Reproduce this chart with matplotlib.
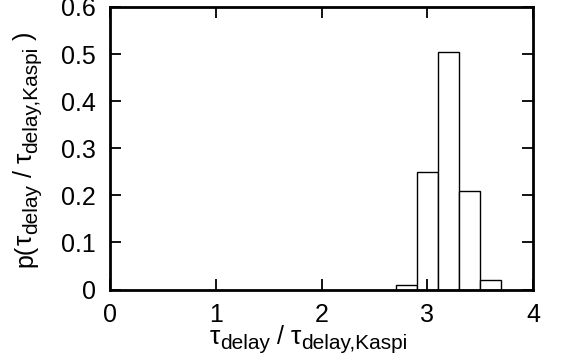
import numpy as np
import matplotlib
matplotlib.use("Agg")
import matplotlib.pyplot as plt
from matplotlib.transforms import IdentityTransform

plt.rcParams['font.family'] = ['Liberation Sans', 'DejaVu Sans']

# histogram of tau_delay / tau_delay,Kaspi
bin_left = [2.7, 2.9, 3.1, 3.3, 3.5]
bin_width = 0.2
prob = [0.0085, 0.249, 0.505, 0.210, 0.020]

x_ticks = [0, 1, 2, 3, 4]
y_ticks = [0, 0.1, 0.2, 0.3, 0.4, 0.5, 0.6]
y_tick_labels = ["0", "0.1", "0.2", "0.3", "0.4", "0.5", "0.6"]

FS = 18      # main text
FS_TAU = 19  # greek tau
FS_SUB = 15  # subscripts
SUB_DY = 5   # subscript drop, px


def rich_label(fig, parts, x, y, vertical=False):
    """place text pieces (string, size, drop) one after another, centred on x,y (px)"""
    r = fig.canvas.get_renderer()
    widths = []
    for s, size, dy in parts:
        t = fig.text(0, 0, s, fontsize=size)
        bb = t.get_window_extent(r)
        widths.append(bb.width)
        t.remove()
    pos = -sum(widths) / 2
    for (s, size, dy), w in zip(parts, widths):
        if vertical:
            fig.text(x + dy, y + pos, s, fontsize=size, rotation=90,
                     rotation_mode='anchor', ha='left', va='baseline',
                     transform=IdentityTransform())
        else:
            fig.text(x + pos, y - dy, s, fontsize=size,
                     ha='left', va='baseline', transform=IdentityTransform())
        pos += w


fig = plt.figure(figsize=(5.67, 3.6), dpi=100)
ax = fig.add_axes([110/567, 1 - 289.5/360, 423/567, 282.5/360])

ax.bar(bin_left, prob, width=bin_width, align='edge',
       facecolor='white', edgecolor='black', linewidth=1.0)

ax.set_xlim(0, 4)
ax.set_ylim(0, 0.6)
ax.set_xticks(x_ticks)
ax.set_yticks(y_ticks)
ax.set_yticklabels(y_tick_labels)
ax.tick_params(direction='in', length=8, width=1.3, labelsize=FS,
               top=True, right=True)
ax.tick_params(axis='x', pad=10)
ax.tick_params(axis='y', pad=10)
for s in ax.spines.values():
    s.set_linewidth(2)

xlab = [("τ", FS_TAU, 0), ("delay", FS_SUB, SUB_DY), (" / ", FS, 0),
        ("τ", FS_TAU, 0), ("delay,Kaspi", FS_SUB, SUB_DY)]
ylab = [("p(", FS, 0)] + xlab + [(" )", FS, 0)]

rich_label(fig, xlab, 308.5, 360 - 344)
rich_label(fig, ylab, 32, 360 - 149, vertical=True)

fig.savefig("out.png", dpi=100)
